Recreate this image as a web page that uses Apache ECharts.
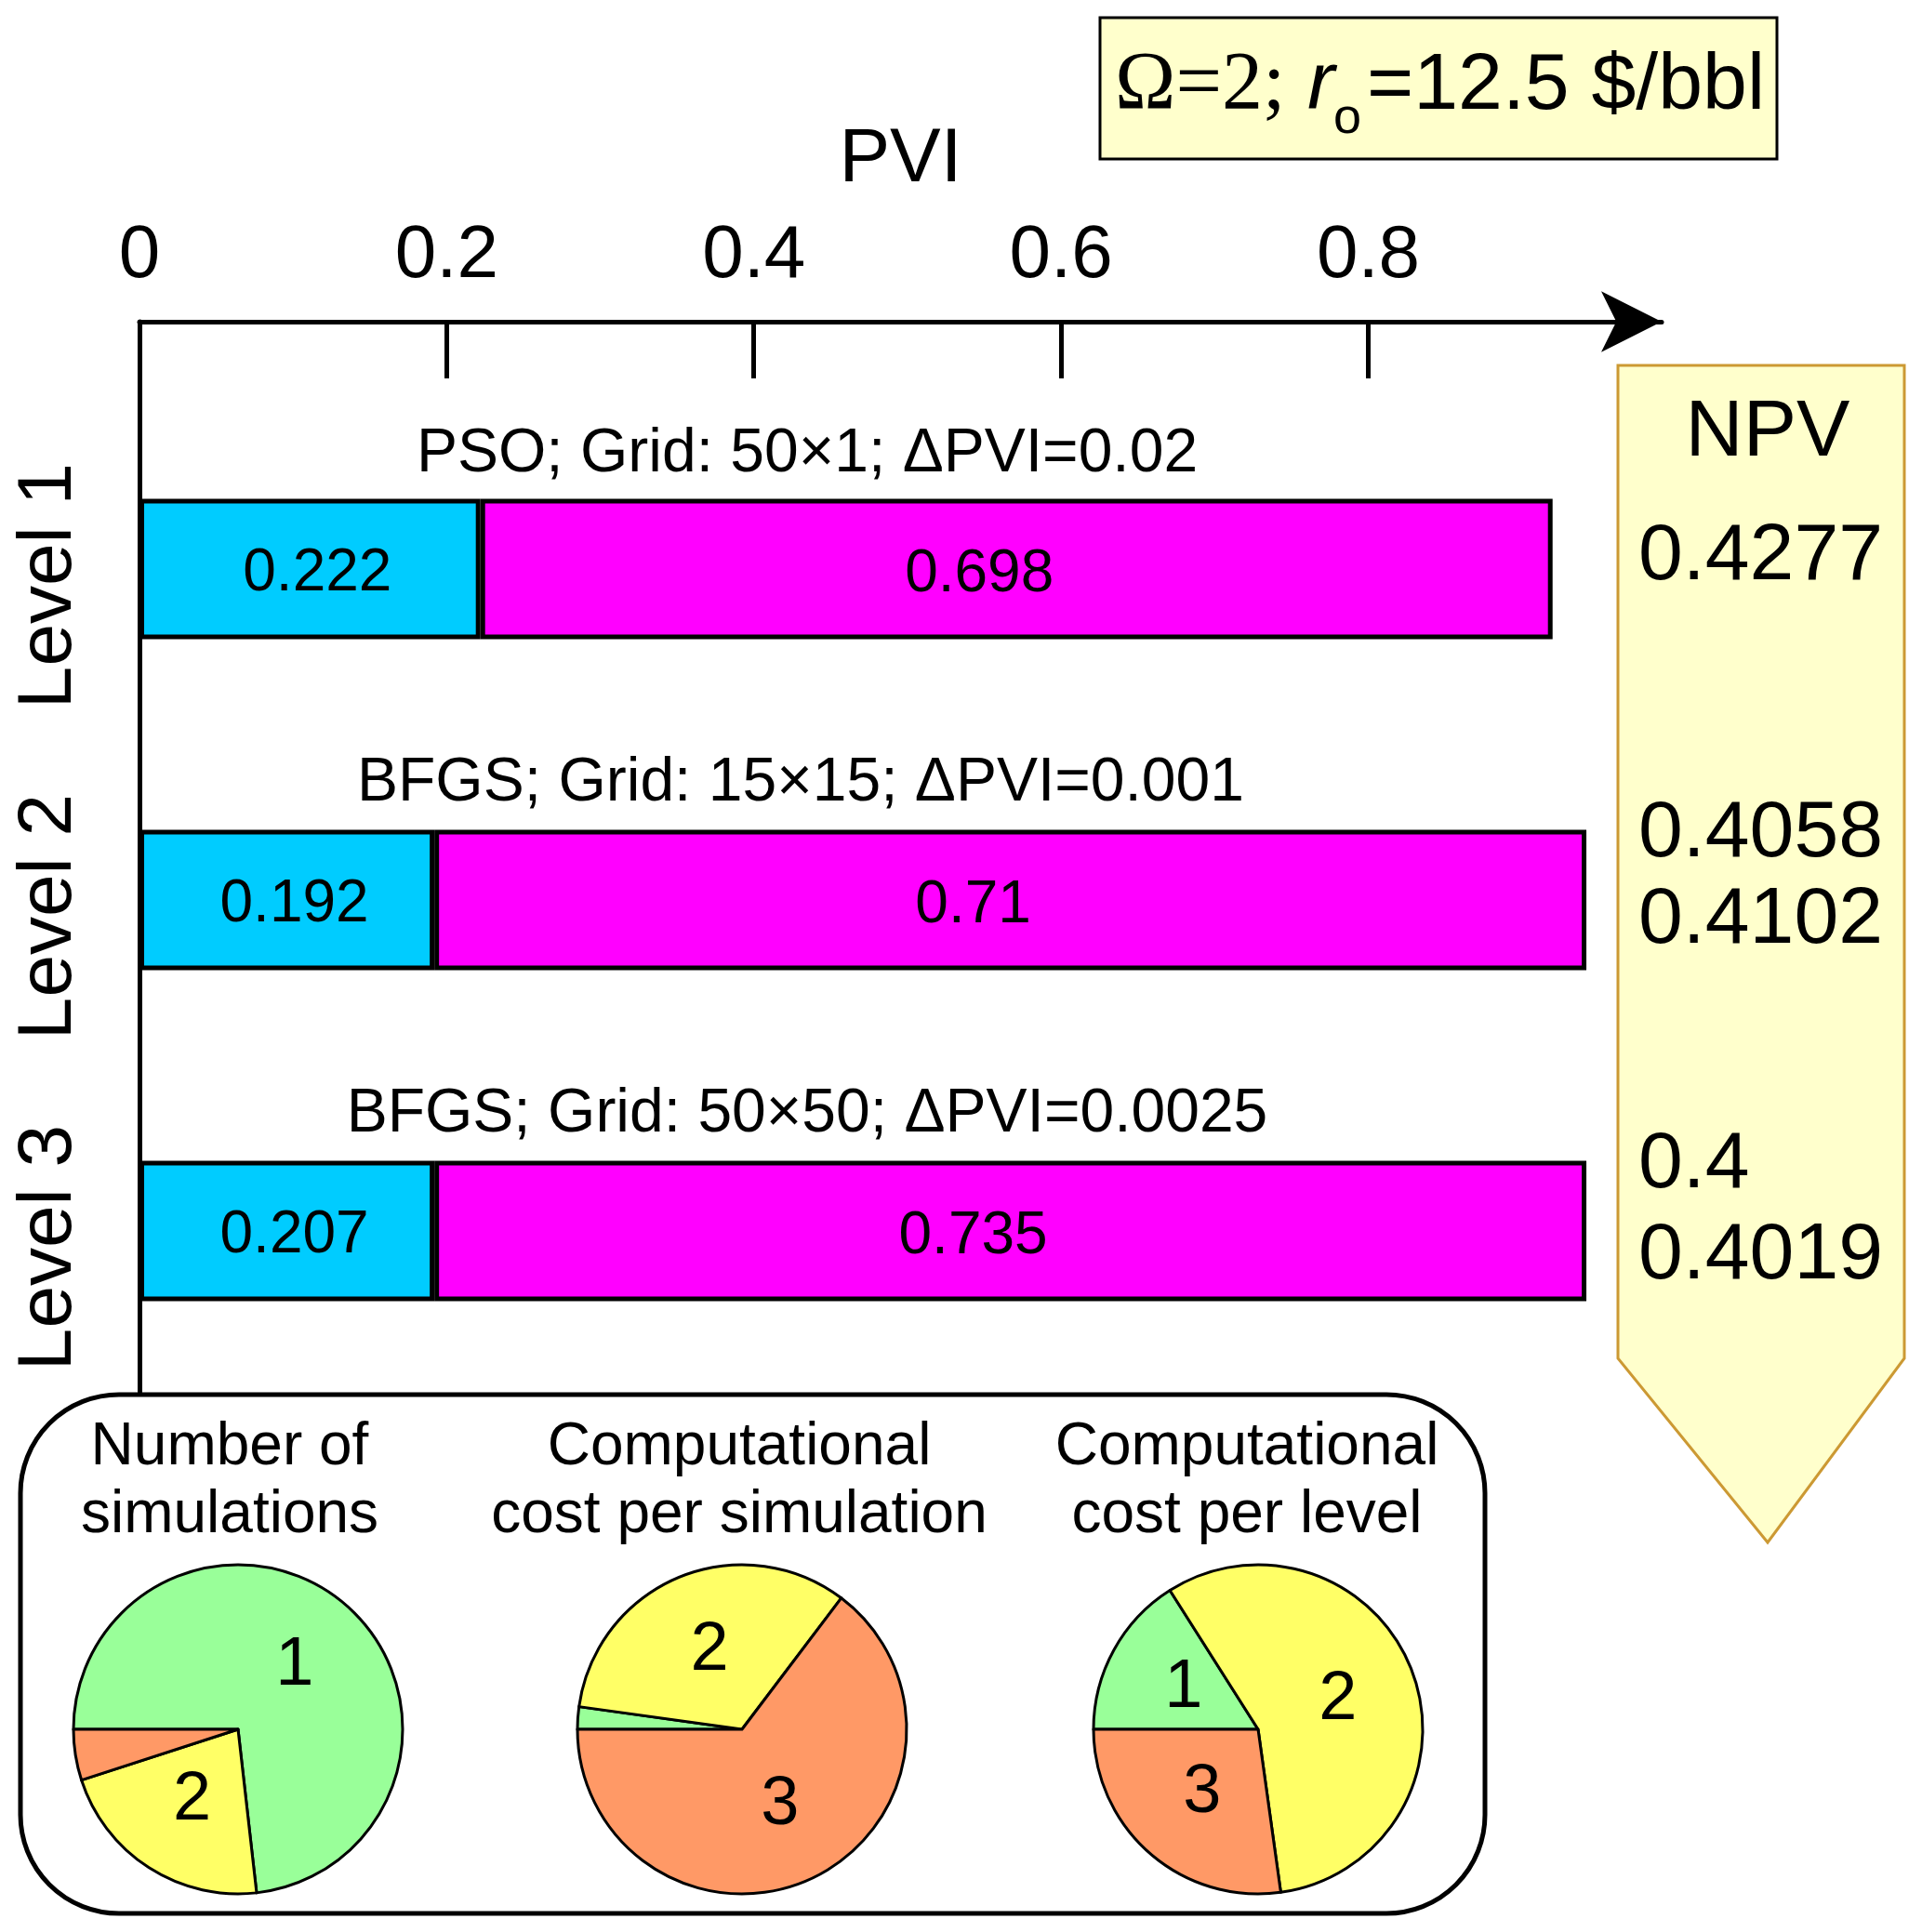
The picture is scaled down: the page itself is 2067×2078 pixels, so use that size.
<!DOCTYPE html>
<html><head><meta charset="utf-8">
<script src="https://cdn.jsdelivr.net/npm/echarts@6/dist/echarts.min.js"></script>
<style>html,body{margin:0;padding:0;background:#fff}#chart{width:2067px;height:2078px}</style>
</head><body><div id="chart"></div>
<script>
// ---- data ----
const levels = ['Level 1', 'Level 2', 'Level 3'];
const cyanBar = [0.222, 0.192, 0.192];          // drawn lengths
const magentaBar = [0.698, 0.750, 0.750];       // drawn lengths
const cyanLabels = ['0.222', '0.192', '0.207'];
const magentaLabels = ['0.698', '0.71', '0.735'];
const methodNotes = ['PSO; Grid: 50×1; ΔPVI=0.02', 'BFGS; Grid: 15×15; ΔPVI=0.001', 'BFGS; Grid: 50×50; ΔPVI=0.0025'];
const pviTickLabels = [0, 0.2, 0.4, 0.6, 0.8];
const pviTicks = [0.2, 0.4, 0.6, 0.8];
const npvHeader = 'NPV';
const npvLevel1 = ['0.4277'];
const npvLevel2 = ['0.4058', '0.4102'];
const npvLevel3 = ['0.4', '0.4019'];
const pieTitles = ['Number of\nsimulations', 'Computational\ncost per simulation', 'Computational\ncost per level'];
const sliceNames = ['1', '2', '3'];
const simCount = [73.2, 21.8, 5.0];
const costPerSim = [2.2, 33.1, 64.7];
const costPerLevel = [16.0, 56.8, 27.2];
const simCountShown = [true, true, false];
const costPerSimShown = [false, true, true];
const costPerLevelShown = [true, true, true];

// ---- styles ----
const SANS = 'Liberation Sans';
const SERIF = 'Liberation Serif';
const sliceColors = ['#99FF99', '#FFFF66', '#FF9966'];
const AXMAX = 0.991;
const GL = 150, GW = 1637;

const chart = echarts.init(document.getElementById('chart'), null, {renderer: 'canvas'});

function pieSeries(values, shown, center) {
  return {
    type: 'pie', center: center, radius: 177, startAngle: 180, clockwise: true,
    silent: true, animation: false, avoidLabelOverlap: false,
    data: values.map((v, i) => ({
      name: sliceNames[i], value: v,
      itemStyle: {color: sliceColors[i]},
      label: {show: shown[i]}
    })),
    itemStyle: {borderColor: '#000', borderWidth: 3},
    label: {position: 'inside', formatter: '{b}', fontSize: 74, fontFamily: SANS, color: '#000'},
    labelLine: {show: false},
    emphasis: {disabled: true}
  };
}

function txt(text, x, y, size, style) {
  return {
    type: 'text', x: x, y: y, silent: true, z: 20,
    style: Object.assign({text: text, fontSize: size, fontFamily: SANS, fill: '#000', align: 'center', verticalAlign: 'middle'}, style || {})
  };
}

const graphics = [
  // parameter box
  {type: 'rect', shape: {x: 1183, y: 19, width: 728, height: 152}, style: {fill: '#FFFFCC', stroke: '#000', lineWidth: 3}, z: 1},
  txt('Ω=2;', 1199, 93, 88, {align: 'left', fontFamily: SERIF}),
  txt('r', 1406, 93, 88, {align: 'left', fontStyle: 'italic'}),
  txt('o', 1434, 128, 54, {align: 'left'}),
  txt('=12.5 $/bbl', 1470, 93, 86, {align: 'left'}),
  // NPV arrow box
  {type: 'polygon', shape: {points: [[1740, 393], [2048, 393], [2048, 1461], [1901, 1659], [1740, 1461]]}, style: {fill: '#FFFFCC', stroke: '#CC9933', lineWidth: 3}, z: 1},
  txt(npvHeader, 1901, 466, 86),
  txt(npvLevel1[0], 1762, 599, 86, {align: 'left'}),
  txt(npvLevel2[0], 1762, 897, 86, {align: 'left'}),
  txt(npvLevel2[1], 1762, 990, 86, {align: 'left'}),
  txt(npvLevel3[0], 1762, 1253, 86, {align: 'left'}),
  txt(npvLevel3[1], 1762, 1351, 86, {align: 'left'}),
  // method notes
  txt(methodNotes[0], 868, 489, 66),
  txt(methodNotes[1], 861, 843, 66),
  txt(methodNotes[2], 868, 1199, 66),
  // pie frame
  {type: 'rect', shape: {x: 22, y: 1500, width: 1575, height: 558, r: 106}, style: {fill: 'rgba(0,0,0,0)', stroke: '#000', lineWidth: 5}, z: 1},
  txt(pieTitles[0], 247, 1594, 64, {lineHeight: 73}),
  txt(pieTitles[1], 795, 1594, 64, {lineHeight: 73}),
  txt(pieTitles[2], 1341, 1594, 64, {lineHeight: 73})
];

const option = {
  backgroundColor: '#fff',
  animation: false,
  textStyle: {fontFamily: SANS, color: '#000'},
  grid: [
    {left: GL, top: 346, width: GW, height: 1151, outerBoundsMode: 'none', containLabel: false},
    {left: GL, top: 434, width: GW, height: 1068, outerBoundsMode: 'none', containLabel: false}
  ],
  xAxis: [
    {
      gridIndex: 0, type: 'value', position: 'top', min: 0, max: AXMAX, interval: 0.2,
      name: 'PVI', nameLocation: 'middle', nameGap: 133,
      nameTextStyle: {fontSize: 82, fontFamily: SANS, color: '#000', padding: [0, 0, 0, 0]},
      axisLine: {show: true, onZero: false, symbol: ['none', 'arrow'], symbolSize: [49, 65], lineStyle: {color: '#000', width: 5}},
      axisTick: {show: true, inside: true, length: 61, customValues: pviTicks, lineStyle: {color: '#000', width: 5}},
      axisLabel: {show: true, margin: 30, fontSize: 80, fontFamily: SANS, color: '#000', customValues: pviTickLabels, formatter: v => String(v)},
      splitLine: {show: false}
    },
    {gridIndex: 1, type: 'value', min: 0, max: AXMAX, show: false}
  ],
  yAxis: [
    {
      gridIndex: 0, type: 'value', min: 0, max: 1, inverse: true,
      axisLine: {show: true, onZero: false, lineStyle: {color: '#000', width: 5}},
      axisTick: {show: false}, axisLabel: {show: false}, splitLine: {show: false}
    },
    {
      gridIndex: 1, type: 'category', data: levels, inverse: true,
      axisLine: {show: false}, axisTick: {show: false}, splitLine: {show: false},
      axisLabel: {show: true, rotate: 90, margin: 56, fontSize: 82, fontFamily: SANS, color: '#000', padding: [0, 36, 0, 0]}
    }
  ],
  series: [
    {
      type: 'bar', xAxisIndex: 1, yAxisIndex: 1, stack: 'pvi', data: cyanBar, barWidth: 151,
      itemStyle: {color: '#00CCFF', borderColor: '#000', borderWidth: 5},
      label: {show: true, position: 'inside', offset: [8, 5], fontSize: 64, fontFamily: SANS, color: '#000', formatter: p => cyanLabels[p.dataIndex]},
      silent: true
    },
    {
      type: 'bar', xAxisIndex: 1, yAxisIndex: 1, stack: 'pvi', data: magentaBar, barWidth: 151,
      itemStyle: {color: '#FF00FF', borderColor: '#000', borderWidth: 5},
      label: {show: true, position: 'inside', offset: [-40, 6], fontSize: 64, fontFamily: SANS, color: '#000', formatter: p => magentaLabels[p.dataIndex]},
      silent: true
    },
    pieSeries(simCount, simCountShown, [256, 1860]),
    pieSeries(costPerSim, costPerSimShown, [798, 1860]),
    pieSeries(costPerLevel, costPerLevelShown, [1353, 1860])
  ],
  graphic: graphics
};
chart.setOption(option);
</script>
</body></html>
